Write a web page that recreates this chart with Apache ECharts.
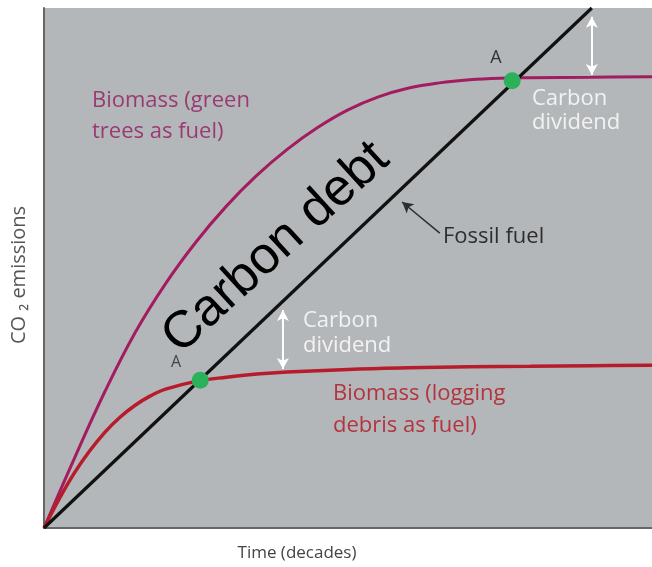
<!DOCTYPE html>
<html>
<head>
<meta charset="utf-8">
<script src="https://cdn.jsdelivr.net/npm/echarts@6/dist/echarts.min.js"></script>
<style>
  html, body { margin: 0; padding: 0; background: #fff; }
  #main { width: 652px; height: 567px; }
</style>
</head>
<body>
<div id="main"></div>
<script>
  // 曲线数据（横轴：时间，纵轴：CO2 排放，0-100 相对单位）
  const fossilX = [0, 90.1];
  const fossilY = [0, 100];

  const greenX = [0, 5, 10, 15, 20, 25, 30, 35, 40, 45, 50, 55, 60, 65, 70, 75, 80, 90, 100];
  const greenY = [0, 13.4, 26.2, 37.6, 47.0, 55.0, 61.9, 67.8, 72.8, 77.0, 80.4, 82.9, 84.6, 85.6, 86.2, 86.5, 86.6, 86.7, 86.8];

  const debrisX = [0, 2.5, 5, 7.5, 10, 12.5, 15, 17.5, 20, 25, 30, 35, 40, 50, 60, 70, 80, 90, 100];
  const debrisY = [0, 5.6, 10.6, 14.8, 18.4, 21.3, 23.6, 25.4, 26.7, 28.2, 29.0, 29.6, 30.0, 30.5, 30.8, 31.0, 31.1, 31.2, 31.3];

  // 交点 A
  const pointA = [[77, 86], [25.7, 28.4]];

  // 碳红利双向箭头 [x, y起, y止]
  const dividendArrows = [[90.1, 98.3, 87.1], [39.3, 41.9, 30.6]];
  // “Fossil fuel” 指示箭头
  const fossilPointer = [[65.1, 56.7], [58.9, 62.7]];

  const zip = (xs, ys) => xs.map((x, i) => [x, ys[i]]);

  const myChart = echarts.init(document.getElementById('main'));

  const labelFont = '"Open Sans", sans-serif';
  const txt = (text, x, y, color, size, align) => ({
    type: 'text', x: x, y: y, z: 100,
    style: {
      text: text, fill: color, font: size + 'px ' + labelFont,
      textAlign: align || 'left', textVerticalAlign: 'middle'
    }
  });

  const option = {
    animation: false,
    backgroundColor: '#ffffff',
    grid: {
      left: 44, top: 8, right: 0, bottom: 39,
      show: true, backgroundColor: '#b4b7b9', borderWidth: 0
    },
    xAxis: {
      type: 'value', min: 0, max: 100,
      axisLine: { show: true, onZero: false, lineStyle: { color: '#666', width: 2 } },
      axisTick: { show: false }, axisLabel: { show: false }, splitLine: { show: false }
    },
    yAxis: {
      type: 'value', min: 0, max: 100,
      axisLine: { show: true, onZero: false, lineStyle: { color: '#666', width: 2 } },
      axisTick: { show: false }, axisLabel: { show: false }, splitLine: { show: false }
    },
    series: [
      {
        name: 'Biomass (green trees as fuel)',
        type: 'line', data: zip(greenX, greenY),
        smooth: 0.4, showSymbol: false,
        lineStyle: { color: '#a21c5f', width: 3 }
      },
      {
        name: 'Biomass (logging debris as fuel)',
        type: 'line', data: zip(debrisX, debrisY),
        smooth: 0.4, showSymbol: false,
        lineStyle: { color: '#b71c2c', width: 3.5 }
      },
      {
        name: 'Fossil fuel',
        type: 'line', data: zip(fossilX, fossilY),
        showSymbol: false,
        lineStyle: { color: '#111', width: 3.2 },
        markLine: {
          silent: true,
          symbol: ['none', 'arrow'],
          symbolSize: [9, 11],
          label: { show: false },
          lineStyle: { color: '#2e2e2e', width: 1.5, type: 'solid' },
          data: [[{ coord: fossilPointer[0] }, { coord: fossilPointer[1] }]]
        }
      },
      {
        name: 'dividend',
        type: 'line', data: [],
        markLine: {
          silent: true,
          symbol: ['arrow', 'arrow'],
          symbolSize: [9, 11],
          label: { show: false },
          lineStyle: { color: '#ffffff', width: 2, type: 'solid' },
          data: dividendArrows.map(a => [{ coord: [a[0], a[1]] }, { coord: [a[0], a[2]] }])
        }
      },
      {
        name: 'A',
        type: 'scatter', data: pointA,
        symbolSize: 17, z: 10,
        itemStyle: { color: '#2bb15a', opacity: 1 }
      }
    ],
    graphic: [
      txt('Biomass (green', 92, 101, '#9a3a73', 22),
      txt('trees as fuel)', 92, 132, '#9a3a73', 22),
      txt('Carbon', 532, 99, '#f2f2f2', 22),
      txt('dividend', 532, 123, '#f2f2f2', 22),
      txt('Carbon', 303, 321, '#f2f2f2', 22),
      txt('dividend', 303, 346, '#f2f2f2', 22),
      txt('Biomass (logging', 333, 394, '#b3343f', 22),
      txt('debris as fuel)', 333, 426, '#b3343f', 22),
      txt('Fossil fuel', 443, 237, '#2e2e2e', 22),
      txt('A', 496, 58, '#333', 18, 'center'),
      txt('A', 176, 362, '#444', 16, 'center'),
      {
        type: 'text', x: 276, y: 248, z: 110,
        rotation: 42.5 * Math.PI / 180,
        style: {
          text: 'Carbon debt', fill: '#000',
          font: '52px "Liberation Sans", Arial, sans-serif',
          textAlign: 'center', textVerticalAlign: 'middle'
        }
      },
      txt('Time (decades)', 297, 553, '#444', 17, 'center'),
      {
        type: 'text', x: 19, y: 275, rotation: Math.PI / 2,
        style: {
          text: 'CO \u2082 emissions', fill: '#555', font: '20px ' + labelFont,
          textAlign: 'center', textVerticalAlign: 'middle'
        }
      }
    ]
  };

  myChart.setOption(option);
</script>
</body>
</html>
